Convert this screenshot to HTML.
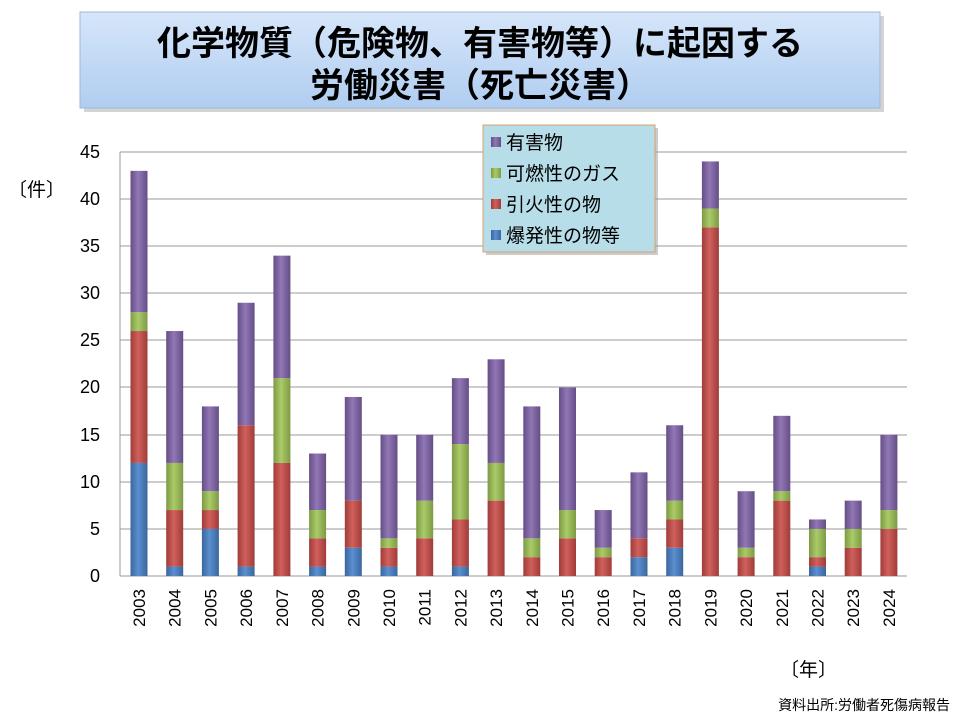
<!DOCTYPE html>
<html><head><meta charset="utf-8"><style>
body{margin:0;background:#fff;width:960px;height:720px;overflow:hidden}
text{font-family:"Liberation Sans","Noto Sans CJK JP",sans-serif}
</style></head><body>
<svg width="960" height="720" xmlns="http://www.w3.org/2000/svg">
<defs>
<linearGradient id="tb" x1="0" y1="0" x2="0" y2="1"><stop offset="0" stop-color="#d6e6fa"/><stop offset="1" stop-color="#b0cdf0"/></linearGradient>
<linearGradient id="b" x1="0" x2="1"><stop offset="0" stop-color="#3a669c"/><stop offset=".45" stop-color="#5b8fd0"/><stop offset="1" stop-color="#3a669c"/></linearGradient>
<linearGradient id="r" x1="0" x2="1"><stop offset="0" stop-color="#a03c39"/><stop offset=".45" stop-color="#d0605c"/><stop offset="1" stop-color="#a03c39"/></linearGradient>
<linearGradient id="g" x1="0" x2="1"><stop offset="0" stop-color="#7d9a44"/><stop offset=".45" stop-color="#aacb68"/><stop offset="1" stop-color="#7d9a44"/></linearGradient>
<linearGradient id="p" x1="0" x2="1"><stop offset="0" stop-color="#654e86"/><stop offset=".45" stop-color="#9177b5"/><stop offset="1" stop-color="#654e86"/></linearGradient>
</defs>
<rect x="84" y="16" width="800" height="96" fill="#aaa" opacity=".5"/>
<rect x="80" y="12" width="800" height="96" fill="url(#tb)" stroke="#9fb8d8"/>
<text x="480" y="55" font-size="34" text-anchor="middle" font-weight="bold">化学物質（危険物、有害物等）に起因する</text>
<text x="480" y="97" font-size="34" text-anchor="middle" font-weight="bold">労働災害（死亡災害）</text>
<g stroke="#999" stroke-width="1">
<line x1="120" y1="152" x2="907" y2="152"/><line x1="120" y1="199" x2="907" y2="199"/><line x1="120" y1="246" x2="907" y2="246"/><line x1="120" y1="293" x2="907" y2="293"/><line x1="120" y1="340" x2="907" y2="340"/><line x1="120" y1="387" x2="907" y2="387"/><line x1="120" y1="435" x2="907" y2="435"/><line x1="120" y1="482" x2="907" y2="482"/><line x1="120" y1="529" x2="907" y2="529"/>
<line x1="120" y1="152" x2="120" y2="576"/><line x1="120" y1="576" x2="907" y2="576"/>
</g>
<g font-size="18" text-anchor="end">
<text x="100" y="158">45</text><text x="100" y="205">40</text><text x="100" y="252">35</text><text x="100" y="299">30</text><text x="100" y="346">25</text><text x="100" y="393">20</text><text x="100" y="441">15</text><text x="100" y="488">10</text><text x="100" y="535">5</text><text x="100" y="582">0</text>
</g>
<text x="8" y="196" font-size="19">〔件〕</text>
<g transform="translate(0,576) scale(1,-9.422)">
<g transform="translate(139,0)"><rect x="-8.5" y="0" width="17" height="12" fill="url(#b)"/><rect x="-8.5" y="12" width="17" height="14" fill="url(#r)"/><rect x="-8.5" y="26" width="17" height="2" fill="url(#g)"/><rect x="-8.5" y="28" width="17" height="15" fill="url(#p)"/></g>
<g transform="translate(174.7,0)"><rect x="-8.5" y="0" width="17" height="1" fill="url(#b)"/><rect x="-8.5" y="1" width="17" height="6" fill="url(#r)"/><rect x="-8.5" y="7" width="17" height="5" fill="url(#g)"/><rect x="-8.5" y="12" width="17" height="14" fill="url(#p)"/></g>
<g transform="translate(210.4,0)"><rect x="-8.5" y="0" width="17" height="5" fill="url(#b)"/><rect x="-8.5" y="5" width="17" height="2" fill="url(#r)"/><rect x="-8.5" y="7" width="17" height="2" fill="url(#g)"/><rect x="-8.5" y="9" width="17" height="9" fill="url(#p)"/></g>
<g transform="translate(246.1,0)"><rect x="-8.5" y="0" width="17" height="1" fill="url(#b)"/><rect x="-8.5" y="1" width="17" height="15" fill="url(#r)"/><rect x="-8.5" y="16" width="17" height="13" fill="url(#p)"/></g>
<g transform="translate(281.9,0)"><rect x="-8.5" y="0" width="17" height="12" fill="url(#r)"/><rect x="-8.5" y="12" width="17" height="9" fill="url(#g)"/><rect x="-8.5" y="21" width="17" height="13" fill="url(#p)"/></g>
<g transform="translate(317.6,0)"><rect x="-8.5" y="0" width="17" height="1" fill="url(#b)"/><rect x="-8.5" y="1" width="17" height="3" fill="url(#r)"/><rect x="-8.5" y="4" width="17" height="3" fill="url(#g)"/><rect x="-8.5" y="7" width="17" height="6" fill="url(#p)"/></g>
<g transform="translate(353.3,0)"><rect x="-8.5" y="0" width="17" height="3" fill="url(#b)"/><rect x="-8.5" y="3" width="17" height="5" fill="url(#r)"/><rect x="-8.5" y="8" width="17" height="11" fill="url(#p)"/></g>
<g transform="translate(389,0)"><rect x="-8.5" y="0" width="17" height="1" fill="url(#b)"/><rect x="-8.5" y="1" width="17" height="2" fill="url(#r)"/><rect x="-8.5" y="3" width="17" height="1" fill="url(#g)"/><rect x="-8.5" y="4" width="17" height="11" fill="url(#p)"/></g>
<g transform="translate(424.7,0)"><rect x="-8.5" y="0" width="17" height="4" fill="url(#r)"/><rect x="-8.5" y="4" width="17" height="4" fill="url(#g)"/><rect x="-8.5" y="8" width="17" height="7" fill="url(#p)"/></g>
<g transform="translate(460.4,0)"><rect x="-8.5" y="0" width="17" height="1" fill="url(#b)"/><rect x="-8.5" y="1" width="17" height="5" fill="url(#r)"/><rect x="-8.5" y="6" width="17" height="8" fill="url(#g)"/><rect x="-8.5" y="14" width="17" height="7" fill="url(#p)"/></g>
<g transform="translate(496.1,0)"><rect x="-8.5" y="0" width="17" height="8" fill="url(#r)"/><rect x="-8.5" y="8" width="17" height="4" fill="url(#g)"/><rect x="-8.5" y="12" width="17" height="11" fill="url(#p)"/></g>
<g transform="translate(531.8,0)"><rect x="-8.5" y="0" width="17" height="2" fill="url(#r)"/><rect x="-8.5" y="2" width="17" height="2" fill="url(#g)"/><rect x="-8.5" y="4" width="17" height="14" fill="url(#p)"/></g>
<g transform="translate(567.5,0)"><rect x="-8.5" y="0" width="17" height="4" fill="url(#r)"/><rect x="-8.5" y="4" width="17" height="3" fill="url(#g)"/><rect x="-8.5" y="7" width="17" height="13" fill="url(#p)"/></g>
<g transform="translate(603.2,0)"><rect x="-8.5" y="0" width="17" height="2" fill="url(#r)"/><rect x="-8.5" y="2" width="17" height="1" fill="url(#g)"/><rect x="-8.5" y="3" width="17" height="4" fill="url(#p)"/></g>
<g transform="translate(639,0)"><rect x="-8.5" y="0" width="17" height="2" fill="url(#b)"/><rect x="-8.5" y="2" width="17" height="2" fill="url(#r)"/><rect x="-8.5" y="4" width="17" height="7" fill="url(#p)"/></g>
<g transform="translate(674.7,0)"><rect x="-8.5" y="0" width="17" height="3" fill="url(#b)"/><rect x="-8.5" y="3" width="17" height="3" fill="url(#r)"/><rect x="-8.5" y="6" width="17" height="2" fill="url(#g)"/><rect x="-8.5" y="8" width="17" height="8" fill="url(#p)"/></g>
<g transform="translate(710.4,0)"><rect x="-8.5" y="0" width="17" height="37" fill="url(#r)"/><rect x="-8.5" y="37" width="17" height="2" fill="url(#g)"/><rect x="-8.5" y="39" width="17" height="5" fill="url(#p)"/></g>
<g transform="translate(746.1,0)"><rect x="-8.5" y="0" width="17" height="2" fill="url(#r)"/><rect x="-8.5" y="2" width="17" height="1" fill="url(#g)"/><rect x="-8.5" y="3" width="17" height="6" fill="url(#p)"/></g>
<g transform="translate(781.8,0)"><rect x="-8.5" y="0" width="17" height="8" fill="url(#r)"/><rect x="-8.5" y="8" width="17" height="1" fill="url(#g)"/><rect x="-8.5" y="9" width="17" height="8" fill="url(#p)"/></g>
<g transform="translate(817.5,0)"><rect x="-8.5" y="0" width="17" height="1" fill="url(#b)"/><rect x="-8.5" y="1" width="17" height="1" fill="url(#r)"/><rect x="-8.5" y="2" width="17" height="3" fill="url(#g)"/><rect x="-8.5" y="5" width="17" height="1" fill="url(#p)"/></g>
<g transform="translate(853.2,0)"><rect x="-8.5" y="0" width="17" height="3" fill="url(#r)"/><rect x="-8.5" y="3" width="17" height="2" fill="url(#g)"/><rect x="-8.5" y="5" width="17" height="3" fill="url(#p)"/></g>
<g transform="translate(888.9,0)"><rect x="-8.5" y="0" width="17" height="5" fill="url(#r)"/><rect x="-8.5" y="5" width="17" height="2" fill="url(#g)"/><rect x="-8.5" y="7" width="17" height="8" fill="url(#p)"/></g>
</g>
<g font-size="17" text-anchor="end">
<text transform="translate(145,589) rotate(-90)">2003</text>
<text transform="translate(180.7,589) rotate(-90)">2004</text>
<text transform="translate(216.4,589) rotate(-90)">2005</text>
<text transform="translate(252.1,589) rotate(-90)">2006</text>
<text transform="translate(287.9,589) rotate(-90)">2007</text>
<text transform="translate(323.6,589) rotate(-90)">2008</text>
<text transform="translate(359.3,589) rotate(-90)">2009</text>
<text transform="translate(395,589) rotate(-90)">2010</text>
<text transform="translate(430.7,589) rotate(-90)">2011</text>
<text transform="translate(466.4,589) rotate(-90)">2012</text>
<text transform="translate(502.1,589) rotate(-90)">2013</text>
<text transform="translate(537.8,589) rotate(-90)">2014</text>
<text transform="translate(573.5,589) rotate(-90)">2015</text>
<text transform="translate(609.2,589) rotate(-90)">2016</text>
<text transform="translate(645,589) rotate(-90)">2017</text>
<text transform="translate(680.7,589) rotate(-90)">2018</text>
<text transform="translate(716.4,589) rotate(-90)">2019</text>
<text transform="translate(752.1,589) rotate(-90)">2020</text>
<text transform="translate(787.8,589) rotate(-90)">2021</text>
<text transform="translate(823.5,589) rotate(-90)">2022</text>
<text transform="translate(859.2,589) rotate(-90)">2023</text>
<text transform="translate(894.9,589) rotate(-90)">2024</text>
</g>
<text x="780" y="676" font-size="19">〔年〕</text>
<text x="950" y="710" font-size="14" text-anchor="end">資料出所:労働者死傷病報告</text>
<rect x="486" y="128" width="172" height="127" fill="#999" opacity=".5"/>
<rect x="483" y="125" width="172" height="127" fill="#b7dde8" stroke="#d9a070"/>
<rect x="491" y="137" width="10" height="10" fill="url(#p)"/>
<rect x="491" y="168" width="10" height="10" fill="url(#g)"/>
<rect x="491" y="199" width="10" height="10" fill="url(#r)"/>
<rect x="491" y="230" width="10" height="10" fill="url(#b)"/>
<g font-size="19">
<text x="506" y="149">有害物</text>
<text x="506" y="180">可燃性のガス</text>
<text x="506" y="211">引火性の物</text>
<text x="506" y="242">爆発性の物等</text>
</g>
</svg>
</body></html>
